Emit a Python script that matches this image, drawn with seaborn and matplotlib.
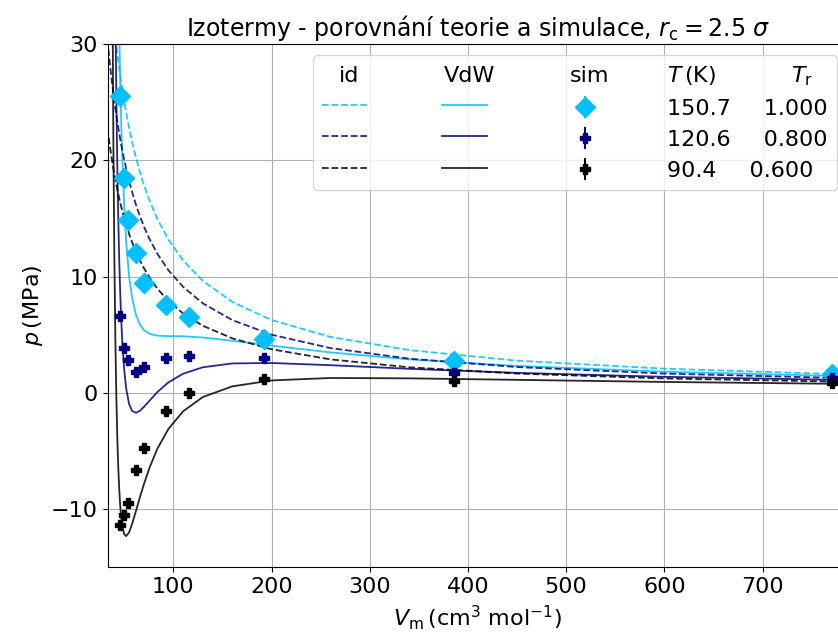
import matplotlib
matplotlib.use("Agg")
import matplotlib.pyplot as plt
import seaborn as sns
import pandas as pd
from matplotlib.lines import Line2D
from matplotlib.text import Text
from matplotlib.legend_handler import HandlerBase

# molar volume grid for the theory curves (cm^3/mol)
V_grid = [33, 34, 35, 36, 37, 38, 39, 40, 41, 42, 43, 44, 45, 46, 47, 48, 50, 52, 55,
          58, 62, 66, 70, 76, 84, 95, 110, 130, 160, 200, 260, 340, 450, 600, 787]

# ideal gas isotherms (MPa)
id_150 = [37.97, 36.85, 35.80, 34.81, 33.86, 32.97, 32.13, 31.33, 30.56, 29.83, 29.14, 28.48,
          27.84, 27.24, 26.66, 26.10, 25.06, 24.10, 22.78, 21.60, 20.21, 18.98, 17.90, 16.49,
          14.92, 13.19, 11.39, 9.64, 7.83, 6.27, 4.82, 3.69, 2.78, 2.09, 1.59]
id_121 = [30.38, 29.49, 28.65, 27.85, 27.10, 26.39, 25.71, 25.07, 24.46, 23.87, 23.32, 22.79,
          22.28, 21.80, 21.33, 20.89, 20.05, 19.28, 18.23, 17.29, 16.17, 15.19, 14.32, 13.19,
          11.94, 10.55, 9.12, 7.71, 6.27, 5.01, 3.86, 2.95, 2.23, 1.67, 1.27]
id_90 = [22.78, 22.11, 21.47, 20.88, 20.31, 19.78, 19.27, 18.79, 18.33, 17.90, 17.48, 17.08,
         16.70, 16.34, 15.99, 15.66, 15.03, 14.45, 13.67, 12.96, 12.12, 11.39, 10.74, 9.89,
         8.95, 7.91, 6.83, 5.78, 4.70, 3.76, 2.89, 2.21, 1.67, 1.25, 0.96]

# van der Waals isotherms (MPa)
vdw_150 = [1441.5, 578.5, 336.5, 224.9, 161.8, 121.9, 94.9, 75.7, 61.5, 50.8, 42.5, 36.0,
           30.8, 26.6, 23.1, 20.3, 16.0, 13.0, 10.0, 8.2, 6.7, 5.87, 5.42, 5.08,
           4.93, 4.89, 4.88, 4.77, 4.49, 4.07, 3.49, 2.89, 2.33, 1.83, 1.44]
vdw_121 = [1128.6, 439.5, 247.2, 159.0, 109.6, 78.8, 58.1, 43.6, 33.1, 25.3, 19.3, 14.8,
           11.2, 8.44, 6.23, 4.48, 1.97, 0.38, -0.95, -1.54, -1.70, -1.53, -1.20, -0.64,
           0.10, 0.91, 1.66, 2.21, 2.54, 2.58, 2.39, 2.08, 1.73, 1.39, 1.11]
vdw_90 = [814.7, 300.0, 157.5, 92.9, 57.3, 35.5, 21.1, 11.42, 4.56, -0.35, -3.91, -6.51,
          -8.39, -9.76, -10.74, -11.41, -12.14, -12.30, -11.97, -11.27, -10.13, -8.96, -7.85, -6.37,
          -4.75, -3.09, -1.57, -0.35, 0.57, 1.08, 1.29, 1.26, 1.13, 0.95, 0.78]

# simulation points
V_sim = [45.4, 49.8, 54.0, 62.0, 70.2, 93.0, 116.0, 192.5, 385.5, 771.0]
sim_150 = [25.5, 18.5, 14.85, 12.05, 9.45, 7.55, 6.55, 4.6, 2.75, 1.6]
sim_121 = [6.65, 3.85, 2.8, 1.8, 2.25, 3.0, 3.15, 3.0, 1.75, 1.3]
sim_90 = [-11.35, -10.45, -9.45, -6.65, -4.7, -1.55, 0.0, 1.2, 1.0, 0.9]
sim_err = [0.15, 0.15, 0.15, 0.15, 0.15, 0.15, 0.15, 0.1, 0.1, 0.1]

temps = ["150.7", "120.6", "90.4"]
t_red = ["1.000", "0.800", "0.600"]
colors = ["deepskyblue", "navy", "black"]
markers = ["D", "P", "P"]
msizes = [10, 7, 7]


class Header:
    def __init__(self, text):
        self.text = text


class HeaderHandler(HandlerBase):
    def create_artists(self, legend, orig_handle, xdescent, ydescent,
                       width, height, fontsize, trans):
        t = Text(x=-xdescent + width / 2 + 3.5, y=-ydescent, text=orig_handle.text,
                 ha="center", va="baseline", fontsize=fontsize, transform=trans)
        return [t]


plt.rcParams["font.size"] = 16
fig, ax = plt.subplots(figsize=(8.38, 6.34), dpi=100)
fig.subplots_adjust(left=0.1283, right=1.012, bottom=0.1049, top=0.9306)

df = pd.DataFrame({"V": V_grid})
ideal = [id_150, id_121, id_90]
vdw = [vdw_150, vdw_121, vdw_90]
sims = [sim_150, sim_121, sim_90]

id_handles, vdw_handles, sim_handles = [], [], []
for i, c in enumerate(colors):
    df["id"] = ideal[i]
    df["vdw"] = vdw[i]
    sns.lineplot(data=df, x="V", y="id", color=c, linestyle="--", linewidth=1.3,
                 alpha=0.85, ax=ax)
    sns.lineplot(data=df, x="V", y="vdw", color=c, linestyle="-", linewidth=1.3,
                 alpha=0.85, ax=ax)
    id_handles.append(Line2D([], [], color=c, ls="--", lw=1.3, alpha=0.85))
    vdw_handles.append(Line2D([], [], color=c, ls="-", lw=1.3, alpha=0.85))

for i, c in enumerate(colors):
    eb = ax.errorbar(V_sim, sims[i], yerr=sim_err, fmt=markers[i], color=c,
                     ms=msizes[i], capsize=0, elinewidth=1.5, zorder=3)
    sim_handles.append(eb)

ax.set_xlim(33, 787)
ax.set_ylim(-15, 30)
ax.set_yticks([-10, 0, 10, 20, 30])
ax.grid(True)
ax.set_xlabel(r"$V_\mathrm{m}\,$(cm$^3$ mol$^{-1}$)", fontsize=16)
ax.set_ylabel(r"$p\,$(MPa)", fontsize=16)
ax.set_title(r"Izotermy - porovnání teorie a simulace, $r_\mathrm{c} = 2.5\ \sigma$", fontsize=17)
ax.tick_params(labelsize=16)

handles = ([Header("id")] + id_handles + [Header("VdW")] + vdw_handles
           + [Header("sim")] + sim_handles)
labels = [""] * 8 + [r"$T\,$(K)" + " " * 10 + "\u2009" + r"$T_\mathrm{r}$"]
labels += [t + "    \u2009" + r for t, r in zip(temps, t_red)]
ax.legend(handles, labels, ncol=3, loc="upper right", fontsize=16,
          handletextpad=2.73, columnspacing=0.67,
          handler_map={Header: HeaderHandler()})

fig.savefig("out.png", dpi=100)
